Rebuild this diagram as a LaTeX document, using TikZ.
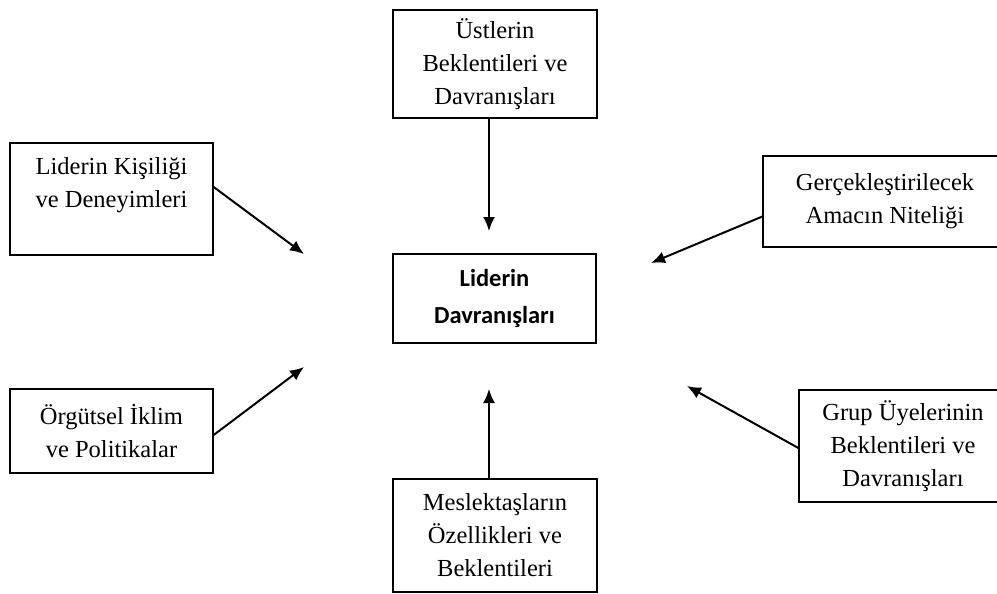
\documentclass[tikz,border=0pt]{standalone}
\usepackage{fontspec}
\setmainfont{Liberation Serif}
\newfontfamily\carlito{Carlito}
\usepackage{tikz}
\usetikzlibrary{positioning}
\usetikzlibrary{arrows.meta}

\begin{document}
\begin{tikzpicture}
    [
    x=1pt,y=-1pt,
    box/.style={draw,line width=1.3pt,align=center,inner sep=0pt,
      font=\fontsize{24.5}{33}\selectfont},
    mainbox/.style={box,font=\carlito\bfseries\fontsize{24.5}{37}\selectfont},
    arrow/.style={line width=2pt,-{Latex[length=14pt,width=12pt]}},
    ]
    \useasboundingbox (0,0) rectangle (997,594);

    \node (lider) at (494.5,298.5) [mainbox,minimum width=203,minimum height=89] {Liderin\\Davranışları};
    \node (ust) at (495,64) [box,minimum width=204,minimum height=108] {Üstlerin\\Beklentileri ve\\Davranışları};
    \node (amac) at (885,201.5) [box,minimum width=244,minimum height=91] {Gerçekleştirilecek\\Amacın Niteliği};
    \node (kisilik) at (111.5,199) [box,minimum width=203,minimum height=112] {Liderin Kişiliği\\ve Deneyimleri\\\mbox{}};
    \node (iklim) at (111.5,431) [box,minimum width=203,minimum height=84] {Örgütsel İklim\\ve Politikalar};
    \node (grup) at (903,446) [box,minimum width=208,minimum height=112] {Grup Üyelerinin\\Beklentileri ve\\Davranışları};
    \node (meslek) at (495,535.5) [box,minimum width=204,minimum height=113] {Meslektaşların\\Özellikleri ve\\Beklentileri};

    % arrow tips around the centre box
    \coordinate (t1) at (489,231);
    \coordinate (t2) at (651,263);
    \coordinate (t3) at (304,254);
    \coordinate (t4) at (304,367);
    \coordinate (t5) at (687,386);
    \coordinate (t6) at (489,389);

    \draw [arrow] ([xshift=-6pt]ust.south) to (t1);
    \draw [arrow] ([yshift=-15pt]amac.west) to (t2);
    \draw [arrow] ([yshift=12pt]kisilik.east) to (t3);
    \draw [arrow] ([yshift=-4pt]iklim.east) to (t4);
    \draw [arrow] ([yshift=-2pt]grup.west) to (t5);
    \draw [arrow] ([xshift=-6pt]meslek.north) to (t6);
\end{tikzpicture}
\end{document}
